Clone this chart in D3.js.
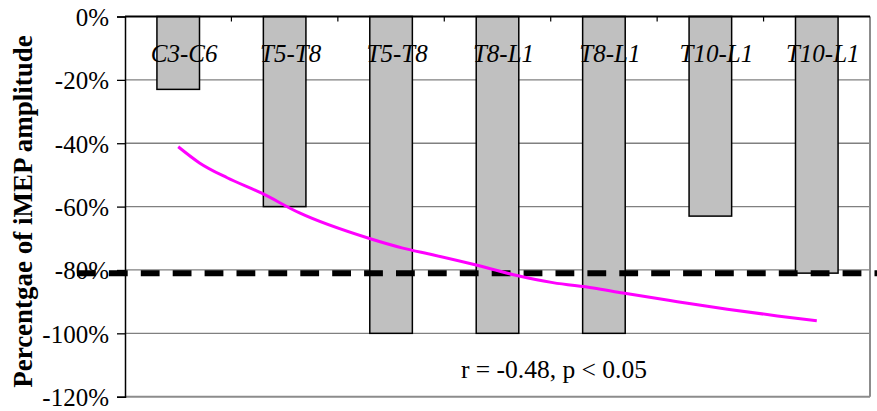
<!DOCTYPE html>
<html>
<head>
<meta charset="utf-8">
<script src="https://cdn.jsdelivr.net/npm/d3@7"></script>
<style>
  html, body { margin: 0; padding: 0; background: #fff; }
  svg { display: block; }
</style>
</head>
<body>
<svg id="chart" width="877" height="411"></svg>
<script>
// ---- data ----
const categories = ["C3-C6", "T5-T8", "T5-T8", "T8-L1", "T8-L1", "T10-L1", "T10-L1"];
const values = [-23, -60, -100, -100, -100, -63, -81];
const threshold = -81;
const yTicks = [0, -20, -40, -60, -80, -100, -120];
// trend curve (x in category-index units, y in %)
const trendX = [0.0, 0.2, 0.46, 0.78, 1.14, 1.79, 2.11, 2.39, 2.77, 3.15, 3.52, 3.9, 4.18, 4.69, 5.16, 5.63, 6.0];
const trendY = [-41.1, -46.2, -50.9, -55.7, -62.0, -70.0, -73.1, -75.2, -78.2, -81.5, -84.0, -85.7, -87.3, -90.0, -92.4, -94.5, -96.0];
const annotation = "r = -0.48, p < 0.05";
const yTitle = "Percentgae of iMEP amplitude";

// ---- layout ----
const FONT = "'Liberation Serif', 'Times New Roman', Tinos, 'DejaVu Serif', serif";
const W = 877, H = 411;
const L = 125, R = 870, T = 16.5, B = 396.7;
const svg = d3.select("#chart").style("font-family", FONT);

const x = d3.scaleBand().domain(d3.range(categories.length)).range([L, R])
  .paddingInner(0.6).paddingOuter(0.3);
const xi = d3.scaleLinear().domain([0, categories.length - 1])
  .range([x(0) + x.bandwidth() / 2, x(categories.length - 1) + x.bandwidth() / 2]);
const y = d3.scaleLinear().domain([-120, 0]).range([B, T]);

// gridlines
svg.append("g").selectAll("line").data(yTicks.filter(d => d !== 0 && d !== -120)).join("line")
  .attr("x1", L).attr("x2", R).attr("y1", d => y(d)).attr("y2", d => y(d))
  .attr("stroke", "#808080").attr("stroke-width", 1.3);

// plot border right & bottom (gray)
svg.append("line").attr("x1", R).attr("x2", R).attr("y1", T).attr("y2", B)
  .attr("stroke", "#8c8c8c").attr("stroke-width", 2);
svg.append("line").attr("x1", L).attr("x2", R).attr("y1", B).attr("y2", B)
  .attr("stroke", "#8c8c8c").attr("stroke-width", 2);

// bars
svg.append("g").selectAll("rect").data(values).join("rect")
  .attr("x", (d, i) => x(i))
  .attr("width", x.bandwidth())
  .attr("y", y(0))
  .attr("height", d => y(d) - y(0))
  .attr("fill", "#c0c0c0").attr("stroke", "#000").attr("stroke-width", 1.5);

// y axis
const yAxis = svg.append("g").attr("transform", `translate(${L},0)`)
  .call(d3.axisLeft(y).tickValues(yTicks).tickSize(8).tickPadding(8)
    .tickFormat(d => d + "%"));
yAxis.attr("font-family", null).attr("font-size", null);
yAxis.select(".domain").attr("stroke", "#000").attr("stroke-width", 1.5);
yAxis.selectAll(".tick line").attr("stroke", "#000").attr("stroke-width", 1.3);
yAxis.selectAll(".tick text").style("font-family", FONT).style("font-size", "25px")
  .attr("fill", "#000").attr("dy", "0.36em");

// top x axis (at 0%)
const xAxis = svg.append("g").attr("transform", `translate(0,${y(0)})`);
xAxis.append("line").attr("x1", L).attr("x2", R).attr("y1", 0).attr("y2", 0)
  .attr("stroke", "#000").attr("stroke-width", 2);
xAxis.selectAll("line.tk").data(d3.range(1, categories.length)).join("line")
  .attr("class", "tk")
  .attr("x1", i => x(i) - x.step() * x.paddingInner() / 2)
  .attr("x2", i => x(i) - x.step() * x.paddingInner() / 2)
  .attr("y1", 0).attr("y2", 5).attr("stroke", "#000").attr("stroke-width", 1.2);

// category labels
svg.append("g").selectAll("text").data(categories).join("text")
  .attr("x", (d, i) => x(i) + x.bandwidth() / 2 + 6)
  .attr("y", 61.5)
  .attr("text-anchor", "middle")
  .style("font-family", FONT).style("font-size", "25px").style("font-style", "italic")
  .text(d => d);

// threshold dashed line
svg.append("line").attr("x1", 77).attr("x2", W).attr("y1", y(threshold)).attr("y2", y(threshold))
  .attr("stroke", "#000").attr("stroke-width", 6).attr("stroke-dasharray", "18.8,13.1");

// trend curve
const pts = trendX.map((v, i) => [v, trendY[i]]);
svg.append("path").datum(pts)
  .attr("d", d3.line().x(d => xi(d[0])).y(d => y(d[1])).curve(d3.curveMonotoneX))
  .attr("fill", "none").attr("stroke", "#ff00ff").attr("stroke-width", 3);

// annotation
svg.append("text").attr("x", xi(3.53)).attr("y", y(-114))
  .attr("text-anchor", "middle")
  .style("font-family", FONT).style("font-size", "25.5px").text(annotation);

// y title
svg.append("text").attr("transform", `translate(32,${(33 + 390) / 2}) rotate(-90)`)
  .attr("text-anchor", "middle")
  .style("font-family", FONT).style("font-size", "27px").style("font-weight", "bold")
  .text(yTitle);
</script>
</body>
</html>
